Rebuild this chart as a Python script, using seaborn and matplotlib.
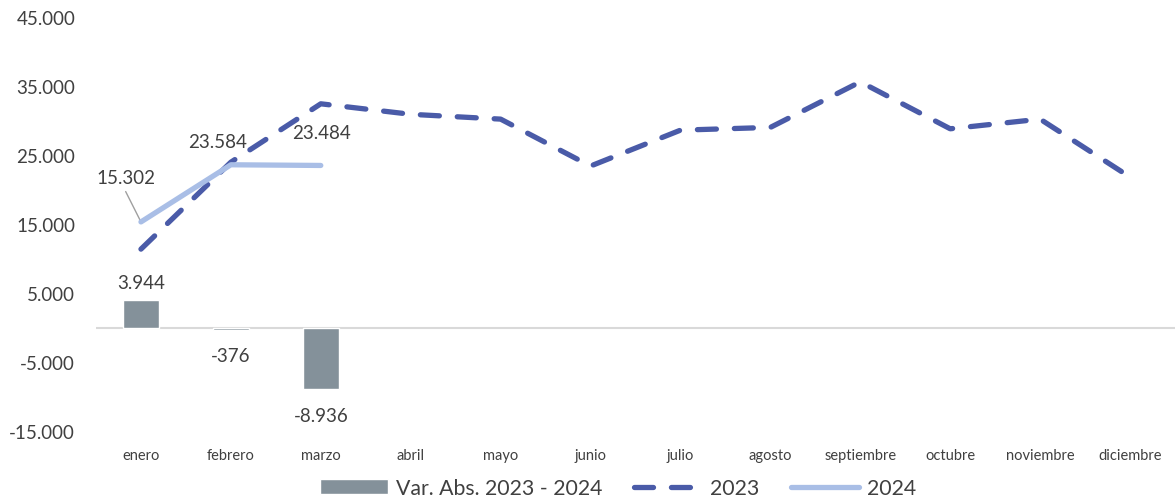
import seaborn as sns
import matplotlib.pyplot as plt
from matplotlib.patches import Patch
from matplotlib.lines import Line2D
import pandas as pd

meses = ['enero', 'febrero', 'marzo', 'abril', 'mayo', 'junio', 'julio',
         'agosto', 'septiembre', 'octubre', 'noviembre', 'diciembre']
v2023 = [11358, 23960, 32420, 30900, 30200, 23400, 28600, 29000, 35600, 28800, 30200, 21800]
v2024 = [15302, 23584, 23484]
var_abs = [3944, -376, -8936]
yticks = [-15000, -5000, 5000, 15000, 25000, 35000, 45000]

def fmt(v):
    return f"{v:,.0f}".replace(",", ".")

df = pd.DataFrame({'mes': meses, 'v2023': v2023})
df24 = pd.DataFrame({'mes': meses[:3], 'v2024': v2024, 'var': var_abs})

sns.set_style("white")
plt.rcParams['font.family'] = ['Lato', 'DejaVu Sans']

fig = plt.figure(figsize=(11.75, 5.02), dpi=100)
ax = fig.add_axes([96 / 1175, 1 - 432 / 502, 1 - 96 / 1175, (432 - 18) / 502])

c_bar = '#84919a'
c_23 = '#4a5ba8'
c_24 = '#a9bee6'
c_txt = '#404040'

sns.barplot(x='mes', y='var', data=df24, order=meses, color=c_bar, width=0.4,
            saturation=1, ax=ax, zorder=2)
ax.axhline(0, color='#d9d9d9', lw=1.5, zorder=1)
sns.lineplot(x='mes', y='v2023', data=df, color=c_23, lw=3.8, ax=ax,
             linestyle=(0, (3.6, 3.4)), dash_capstyle='round', zorder=3)
sns.lineplot(x='mes', y='v2024', data=df24, color=c_24, lw=3.8, ax=ax,
             solid_capstyle='round', zorder=4)

ax.set_xlim(-0.5, 11.5)
ax.set_ylim(-15000, 45000)
ax.set_yticks(yticks)
ax.set_yticklabels([fmt(t) for t in yticks], fontsize=13.5, color=c_txt)
ax.tick_params(axis='y', length=0, pad=15)
ax.tick_params(axis='x', length=0, pad=12, labelsize=10.5, labelcolor=c_txt)
ax.set_xlabel('')
ax.set_ylabel('')
for s in ax.spines.values():
    s.set_visible(False)

lbl = 13.5
# etiquetas de la serie 2024
ax.text(-0.17, 21800, fmt(v2024[0]), ha='center', va='center', fontsize=lbl, color=c_txt)
ax.annotate('', xy=(0, v2024[0]), xytext=(-0.17, 19700),
            arrowprops=dict(arrowstyle='-', color='#a0a0a0', lw=1,
                            shrinkA=0, shrinkB=0))
ax.text(1 - 0.15, 27000, fmt(v2024[1]), ha='center', va='center', fontsize=lbl, color=c_txt)
ax.text(2 + 0.01, 28200, fmt(v2024[2]), ha='center', va='center', fontsize=lbl, color=c_txt)

# etiquetas de las barras
for i, v in enumerate(var_abs):
    if v >= 0:
        ax.text(i, v + 2650, fmt(v), ha='center', va='center', fontsize=lbl, color=c_txt)
    else:
        ax.text(i, v - 3750, fmt(v), ha='center', va='center', fontsize=lbl, color=c_txt)

handles = [Patch(facecolor=c_bar, label='Var. Abs. 2023 - 2024'),
           Line2D([], [], color=c_23, lw=3.8, linestyle=(0, (3.6, 3.4)),
                  dash_capstyle='round', label='2023'),
           Line2D([], [], color=c_24, lw=3.8, label='2024')]
fig.legend(handles=handles, loc='center', bbox_to_anchor=(0.526, 0.026), ncol=3,
           frameon=False, fontsize=15.3, handlelength=3.2, handleheight=0.7,
           columnspacing=1.5, handletextpad=0.38, labelcolor=c_txt)

fig.savefig('out.png', dpi=100)
